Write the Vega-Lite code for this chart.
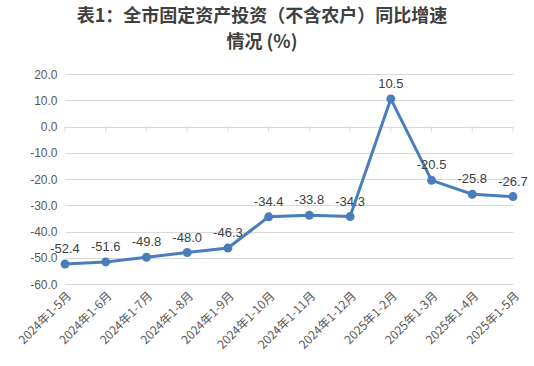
{
  "$schema": "https://vega.github.io/schema/vega-lite/v6.json",
  "autosize": {"type": "none"},
  "width": 448,
  "height": 210,
  "padding": {"left": 65, "top": 74, "right": 21, "bottom": 82},
  "background": "white",
  "title": {
    "text": ["表1：全市固定资产投资（不含农户）同比增速", "情况 (%)"],
    "font": "Noto Sans CJK SC",
    "fontSize": 18,
    "fontWeight": "bold",
    "color": "#404040",
    "lineHeight": 26,
    "anchor": "middle",
    "frame": "group",
    "dx": -27,
    "offset": 16
  },
  "config": {
    "view": {"stroke": null},
    "locale": {
      "number": {
        "decimal": ".",
        "thousands": ",",
        "grouping": [3],
        "currency": ["", ""],
        "minus": "-"
      }
    }
  },
  "data": {
    "values": [
      {"month": "2024年1-5月", "value": -52.4},
      {"month": "2024年1-6月", "value": -51.6},
      {"month": "2024年1-7月", "value": -49.8},
      {"month": "2024年1-8月", "value": -48.0},
      {"month": "2024年1-9月", "value": -46.3},
      {"month": "2024年1-10月", "value": -34.4},
      {"month": "2024年1-11月", "value": -33.8},
      {"month": "2024年1-12月", "value": -34.3},
      {"month": "2025年1-2月", "value": 10.5},
      {"month": "2025年1-3月", "value": -20.5},
      {"month": "2025年1-4月", "value": -25.8},
      {"month": "2025年1-5月", "value": -26.7}
    ]
  },
  "encoding": {
    "x": {
      "field": "month",
      "type": "ordinal",
      "sort": null,
      "scale": {"type": "point", "padding": 0},
      "axis": {
        "title": null,
        "domain": false,
        "ticks": false,
        "labelAngle": -45,
        "labelFont": "Noto Sans CJK SC",
        "labelFontSize": 12,
        "labelColor": "#595959",
        "labelPadding": 6
      }
    },
    "y": {
      "field": "value",
      "type": "quantitative",
      "scale": {"domain": [-60, 20], "nice": false},
      "axis": {
        "title": null,
        "values": [-60, -50, -40, -30, -20, -10, 0, 10, 20],
        "format": ".1f",
        "domain": false,
        "ticks": false,
        "gridColor": "#d9d9d9",
        "labelFont": "Liberation Sans",
        "labelFontSize": 12,
        "labelColor": "#595959",
        "labelPadding": 8
      }
    }
  },
  "layer": [
    {
      "mark": {"type": "rule", "color": "#d9d9d9", "strokeWidth": 1},
      "encoding": {"y": {"datum": 0}, "y2": {"datum": -1.9}}
    },
    {
      "mark": {"type": "line", "color": "#4a7ebb", "strokeWidth": 3}
    },
    {
      "mark": {"type": "point", "filled": true, "color": "#4a7ebb", "size": 80, "opacity": 1}
    },
    {
      "mark": {"type": "text", "font": "Liberation Sans", "fontSize": 13, "color": "#404040", "baseline": "bottom", "dy": -8},
      "encoding": {"text": {"field": "value", "type": "quantitative", "format": ".1f"}}
    }
  ]
}
